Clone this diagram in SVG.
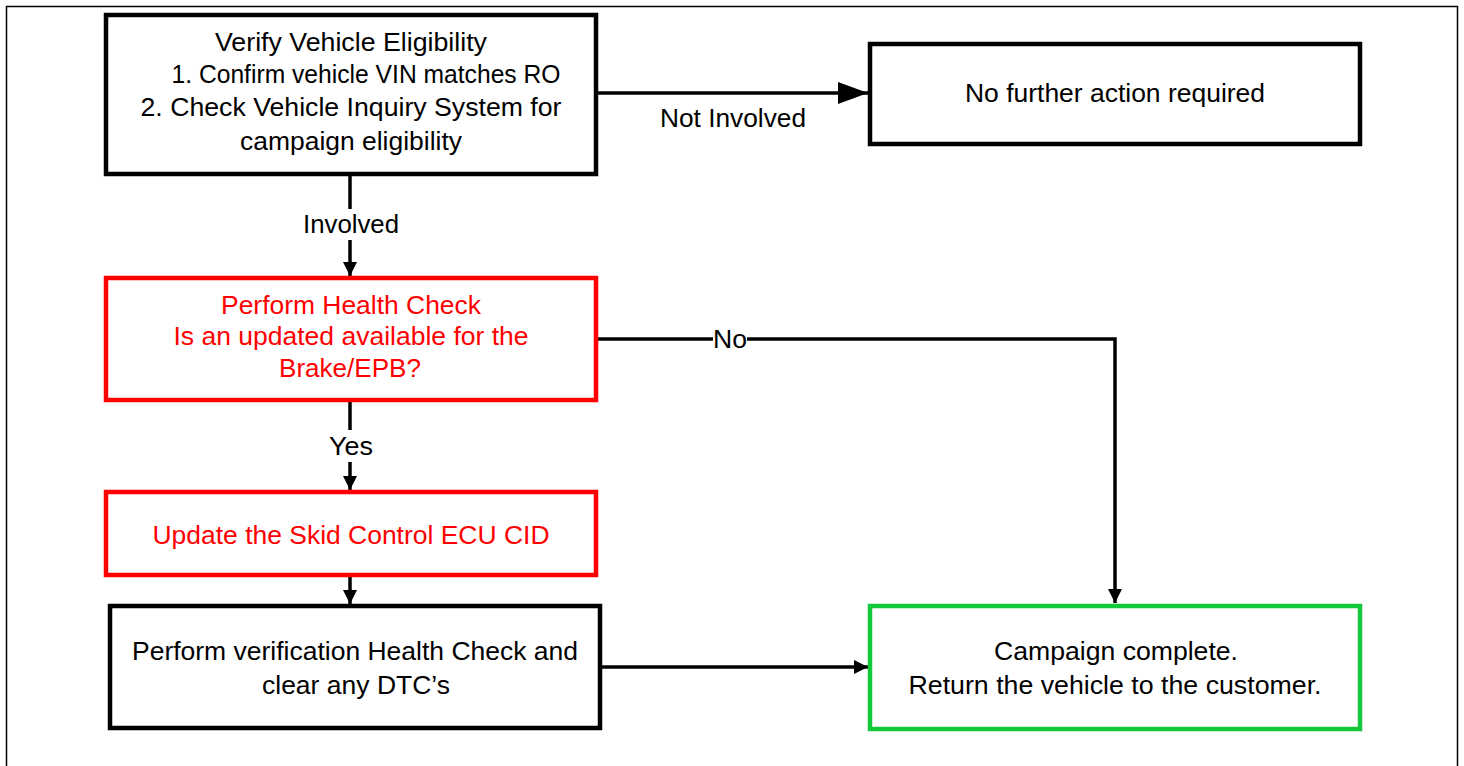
<svg xmlns="http://www.w3.org/2000/svg" width="1464" height="766" viewBox="0 0 1464 766">
<defs>
<style>
.box{fill:#fff;stroke-width:4.5;stroke-linejoin:miter}
.blk{stroke:#000}
.red{stroke:#ff0000}
.grn{stroke:#14c83c}
.t{font-family:"Liberation Sans",Arial,sans-serif;font-size:25px;text-anchor:middle;fill:#000}
.tr{fill:#ff0000}
.c{fill:none;stroke:#000;stroke-width:3.5}
.lbl{font-family:"Liberation Sans",Arial,sans-serif;font-size:25px;text-anchor:middle;fill:#000}
</style>
<marker id="ah" viewBox="0 0 10 10" refX="10" refY="5" markerUnits="userSpaceOnUse" markerWidth="14" markerHeight="14" orient="auto"><path d="M0,0 L10,5 L0,10 z" fill="#000"/></marker>
<marker id="ahL" viewBox="0 0 10 10" refX="10" refY="5" markerUnits="userSpaceOnUse" markerWidth="30" markerHeight="22" orient="auto" preserveAspectRatio="none"><path d="M0,0 L10,5 L0,10 z" fill="#000"/></marker>
</defs>
<rect width="1464" height="766" fill="#fff"/>
<rect x="6.5" y="6.5" width="1451" height="780" fill="none" stroke="#000" stroke-width="1.5"/>

<g id="connectors">
<line class="c" x1="596" y1="93" x2="868" y2="93" marker-end="url(#ahL)"/>
<line class="c" x1="350" y1="174" x2="350" y2="209"/>
<line class="c" x1="350" y1="240" x2="350" y2="276" marker-end="url(#ah)"/>
<line class="c" x1="350" y1="400" x2="350" y2="430"/>
<line class="c" x1="350" y1="462" x2="350" y2="490" marker-end="url(#ah)"/>
<line class="c" x1="350" y1="575" x2="350" y2="604" marker-end="url(#ah)"/>
<polyline class="c" points="596,339 1115,339 1115,603" marker-end="url(#ah)"/>
<line class="c" x1="600" y1="667" x2="868" y2="667" marker-end="url(#ah)"/>
<text class="lbl" x="733" y="127" textLength="146" lengthAdjust="spacingAndGlyphs">Not Involved</text>
<text class="lbl" x="351" y="233" textLength="96" lengthAdjust="spacingAndGlyphs">Involved</text>
<text class="lbl" x="351" y="455" textLength="44" lengthAdjust="spacingAndGlyphs">Yes</text>
<rect x="713" y="328" width="34" height="22" fill="#fff"/>
<text class="lbl" x="730" y="348" textLength="34" lengthAdjust="spacingAndGlyphs">No</text>
</g>

<g id="verify">
<rect class="box blk" x="106" y="15" width="490" height="159"/>
<text class="t" x="351" y="51" textLength="272" lengthAdjust="spacingAndGlyphs">Verify Vehicle Eligibility</text>
<text class="t" x="366" y="83" textLength="389" lengthAdjust="spacingAndGlyphs">1. Confirm vehicle VIN matches RO</text>
<text class="t" x="351" y="116" textLength="421" lengthAdjust="spacingAndGlyphs">2. Check Vehicle Inquiry System for</text>
<text class="t" x="351" y="150" textLength="222" lengthAdjust="spacingAndGlyphs">campaign eligibility</text>
</g>

<g id="nofurther">
<rect class="box blk" x="870" y="44" width="490" height="100"/>
<text class="t" x="1115" y="102" textLength="300" lengthAdjust="spacingAndGlyphs">No further action required</text>
</g>

<g id="healthcheck">
<rect class="box red" x="106" y="278" width="490" height="122"/>
<text class="t tr" x="351" y="314" textLength="260" lengthAdjust="spacingAndGlyphs">Perform Health Check</text>
<text class="t tr" x="351" y="345" textLength="355" lengthAdjust="spacingAndGlyphs">Is an updated available for the</text>
<text class="t tr" x="350" y="377" textLength="142" lengthAdjust="spacingAndGlyphs">Brake/EPB?</text>
</g>

<g id="update">
<rect class="box red" x="106" y="492" width="490" height="83"/>
<text class="t tr" x="351" y="544" textLength="397" lengthAdjust="spacingAndGlyphs">Update the Skid Control ECU CID</text>
</g>

<g id="verification">
<rect class="box blk" x="110" y="606" width="490" height="122"/>
<text class="t" x="355" y="660" textLength="446" lengthAdjust="spacingAndGlyphs">Perform verification Health Check and</text>
<text class="t" x="356" y="694" textLength="188" lengthAdjust="spacingAndGlyphs">clear any DTC’s</text>
</g>

<g id="complete">
<rect class="box grn" x="870" y="606" width="490" height="123"/>
<text class="t" x="1116" y="660" textLength="244" lengthAdjust="spacingAndGlyphs">Campaign complete.</text>
<text class="t" x="1115" y="694" textLength="413" lengthAdjust="spacingAndGlyphs">Return the vehicle to the customer.</text>
</g>
</svg>
